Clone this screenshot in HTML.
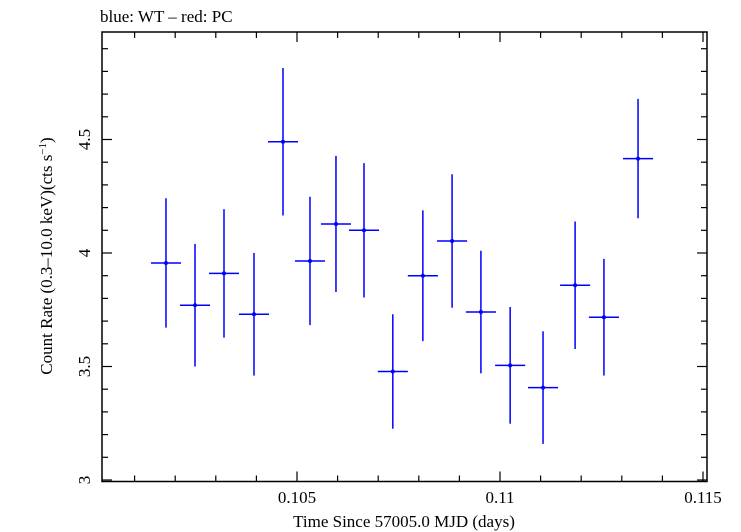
<!DOCTYPE html>
<html><head><meta charset="utf-8"><style>
body{margin:0;background:#fff}
svg{display:block}
text{font-family:"Liberation Serif",serif;fill:#000}
</style></head><body>
<svg id="chart" width="741" height="532" xmlns="http://www.w3.org/2000/svg">
<text x="100" y="22" font-size="17">blue: WT – red: PC</text>
<g id="axes"></g>
<g id="marks"></g>
<text x="404" y="527" font-size="17" text-anchor="middle">Time Since 57005.0 MJD (days)</text>
<text transform="translate(52,256) rotate(-90)" font-size="17" text-anchor="middle">Count Rate (0.3–10.0 keV)(cts s<tspan dy="-6" font-size="11">−1</tspan><tspan dy="6">)</tspan></text>
</svg>
<script>
const times=[0.101773,0.102488,0.103202,0.103941,0.104655,0.10532,0.10596,0.10665,0.10736,0.10810,0.10882,0.10953,0.11025,0.11106,0.11185,0.11256,0.11340];
const rates=[3.956,3.77,3.91,3.73,4.49,3.965,4.128,4.10,3.478,3.90,4.053,3.74,3.505,3.407,3.858,3.717,4.416];
const rateErr=[0.285,0.27,0.283,0.27,0.325,0.283,0.30,0.296,0.252,0.288,0.294,0.27,0.257,0.248,0.281,0.257,0.263];
const timeErr=[0.00037,0.00037,0.00037,0.00037,0.00037,0.00037,0.00037,0.00037,0.00037,0.00037,0.00037,0.00037,0.00037,0.00037,0.00037,0.00037,0.00037];
const xTickLabels=["0.105","0.11","0.115"];
const yTickLabels=["3","3.5","4","4.5"];
const L=102,R=707,T=32,B=481.5;
const X0=0.105,XS=40600;
const xs=v=>297+(v-X0)*XS;
const ys=v=>253-(v-4)*227;
const NS="http://www.w3.org/2000/svg";
function mk(tag,attrs,parent){const e=document.createElementNS(NS,tag);for(const k in attrs)e.setAttribute(k,attrs[k]);parent.appendChild(e);return e;}
const ax=document.getElementById('axes'),mg=document.getElementById('marks');
const fr=mk('rect',{x:L,y:T,width:R-L,height:B-T,fill:'none',stroke:'#000','stroke-width':1.5},ax);


// x ticks
for(let i=0;i<=16;i++){const v=0.100+i*0.001;const px=xs(v);if(px<L-0.5||px>R+0.5)continue;const maj=Math.abs((v*1000)%5)<1e-6||Math.abs((v*1000)%5-5)<1e-6;const len=maj?10:6;
const t1=mk('line',{x1:px,x2:px,y1:B,y2:B-len,stroke:'#000','stroke-width':1.2},ax);


const t2=mk('line',{x1:px,x2:px,y1:T,y2:T+len,stroke:'#000','stroke-width':1.2},ax);

}
const xTickVals=[0.105,0.11,0.115];
xTickVals.forEach((v,i)=>{const t=mk('text',{x:xs(v),y:503,'font-size':17,'text-anchor':'middle'},ax);t.textContent=xTickLabels[i];

});
// y ticks
for(let i=0;i<=20;i++){const v=3+i*0.1;const py=ys(v);if(py<T-0.5||py>B+0.5)continue;const maj=i%5===0;const len=maj?10:6;
const t1=mk('line',{x1:L,x2:L+len,y1:py,y2:py,stroke:'#000','stroke-width':1.2},ax);


const t2=mk('line',{x1:R,x2:R-len,y1:py,y2:py,stroke:'#000','stroke-width':1.2},ax);

}
const yTickVals=[3,3.5,4,4.5];
yTickVals.forEach((v,i)=>{const t=mk('text',{transform:`translate(90,${ys(v)}) rotate(-90)`,'font-size':17,'text-anchor':'middle'},ax);t.textContent=yTickLabels[i];

});
// data
times.forEach((t,i)=>{const g=mk('g',{},mg);


mk('line',{x1:xs(t-timeErr[i]),x2:xs(t+timeErr[i]),y1:ys(rates[i]),y2:ys(rates[i]),stroke:'#0000ff','stroke-width':1.5},g);
mk('line',{x1:xs(t),x2:xs(t),y1:ys(rates[i]-rateErr[i]),y2:ys(rates[i]+rateErr[i]),stroke:'#0000ff','stroke-width':1.5},g);
mk('circle',{cx:xs(t),cy:ys(rates[i]),r:2,fill:'#0000ff'},g);});
</script>
</body></html>
